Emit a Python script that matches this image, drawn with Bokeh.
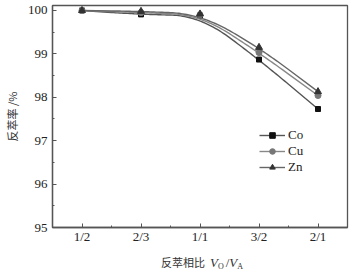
import numpy as np
from bokeh.plotting import figure
from bokeh.models import FixedTicker, Range1d, Legend, LegendItem, Div
from bokeh.layouts import column
from bokeh.embed import file_html
from bokeh.resources import INLINE

categories = ["1/2", "2/3", "1/1", "3/2", "2/1"]
co = [100.0, 99.91, 99.88, 98.87, 97.73]
cu = [100.0, 99.95, 99.90, 99.03, 98.04]
zn = [100.0, 99.98, 99.92, 99.15, 98.13]
y_ticks = [95, 96, 97, 98, 99, 100]

SERIF = "Liberation Serif"
CJK = "Noto Sans CJK SC"

xs = list(range(1, len(categories) + 1))


def smooth_curve(x, y, n=30):
    """Quadratic B-spline smoothing (clamped) using the measured points as controls."""
    P = np.column_stack([np.asarray(x, float), np.asarray(y, float)])
    M = (P[:-1] + P[1:]) / 2
    out = [P[0], M[0]]
    t = np.linspace(0, 1, n)[1:, None]
    for k in range(1, len(P) - 1):
        seg = (1 - t) ** 2 * M[k - 1] + 2 * t * (1 - t) * P[k] + t ** 2 * M[k]
        out.extend(seg)
    out.append(P[-1])
    out = np.array(out)
    return out[:, 0], out[:, 1]


p = figure(width=354, height=250, output_backend="svg", toolbar_location=None,
           x_range=Range1d(0.5, len(categories) + 0.5), y_range=Range1d(95, 100.115),
           min_border_left=52, min_border_right=7, min_border_top=5, min_border_bottom=23)
p.background_fill_color = "white"
p.border_fill_color = "white"
p.grid.visible = False
p.outline_line_color = "#555555"
p.outline_line_width = 1.3

p.xaxis.ticker = FixedTicker(ticks=xs, minor_ticks=[i + 0.5 for i in xs[:-1]])
p.xaxis.major_label_overrides = {x: c for x, c in zip(xs, categories)}
p.yaxis.ticker = FixedTicker(ticks=y_ticks, minor_ticks=[t + 0.5 for t in y_ticks[:-1]])

for ax in (p.xaxis[0], p.yaxis[0]):
    ax.axis_line_color = "#555555"
    ax.axis_line_width = 1.3
    ax.major_tick_line_color = "#555555"
    ax.minor_tick_line_color = "#555555"
    ax.major_tick_in = 4
    ax.major_tick_out = 0
    ax.minor_tick_in = 2
    ax.minor_tick_out = 0
    ax.major_label_text_font = SERIF
    ax.major_label_text_font_size = "13px"
    ax.major_label_text_color = "#222222"
p.xaxis.major_label_standoff = 1
p.yaxis.major_label_standoff = 5

p.yaxis.axis_label = "反萃率 /%"
p.yaxis.axis_label_text_font = CJK
p.yaxis.axis_label_text_font_size = "11px"
p.yaxis.axis_label_text_font_style = "normal"
p.yaxis.axis_label_text_color = "#333333"
p.yaxis.axis_label_standoff = 5

series = [
    ("Co", co, "#555555", "#111111", "square", 5),
    ("Cu", cu, "#888888", "#777777", "circle", 6),
    ("Zn", zn, "#666666", "#333333", "triangle", 7),
]
items = []
for name, vals, lc, mc, mk, sz in series:
    cx, cy = smooth_curve(xs, vals)
    lr = p.line(cx, cy, line_color=lc, line_width=1.4)
    mr = p.scatter(xs, vals, marker=mk, size=sz, fill_color=mc, line_color=mc)
    items.append(LegendItem(label=name, renderers=[lr, mr]))

legend = Legend(items=items, location=(207, 52), margin=0, padding=0,
                border_line_alpha=0, background_fill_alpha=0,
                glyph_width=26, glyph_height=14, label_height=14, spacing=-2,
                label_standoff=3, label_text_font=SERIF, label_text_font_size="13px",
                label_text_line_height=1.0, label_text_color="#222222")
p.add_layout(legend)

sub = "font-size:8px;position:relative;top:2px;"
xlabel_html = (
    "<div style=\"padding-left:161px;padding-top:3px;line-height:19px;"
    "font-family:'Liberation Serif';font-size:13px;color:#333333;white-space:nowrap;\">"
    "<span style=\"font-family:'Noto Sans CJK SC';font-size:11px;\">反萃相比</span>"
    "<i style=\"margin-left:5px;\">V</i>"
    f"<span style=\"{sub}\">O</span>"
    "<span style=\"margin-left:2px;\">/</span><i>V</i>"
    f"<span style=\"{sub}\">A</span>"
    "</div>"
)
div = Div(text=xlabel_html, width=354, height=21, margin=(0, 0, 0, 0))

layout = column(p, div, spacing=0, margin=(0, 0, 0, 0))
open("out.html", "w").write(file_html(layout, INLINE))
